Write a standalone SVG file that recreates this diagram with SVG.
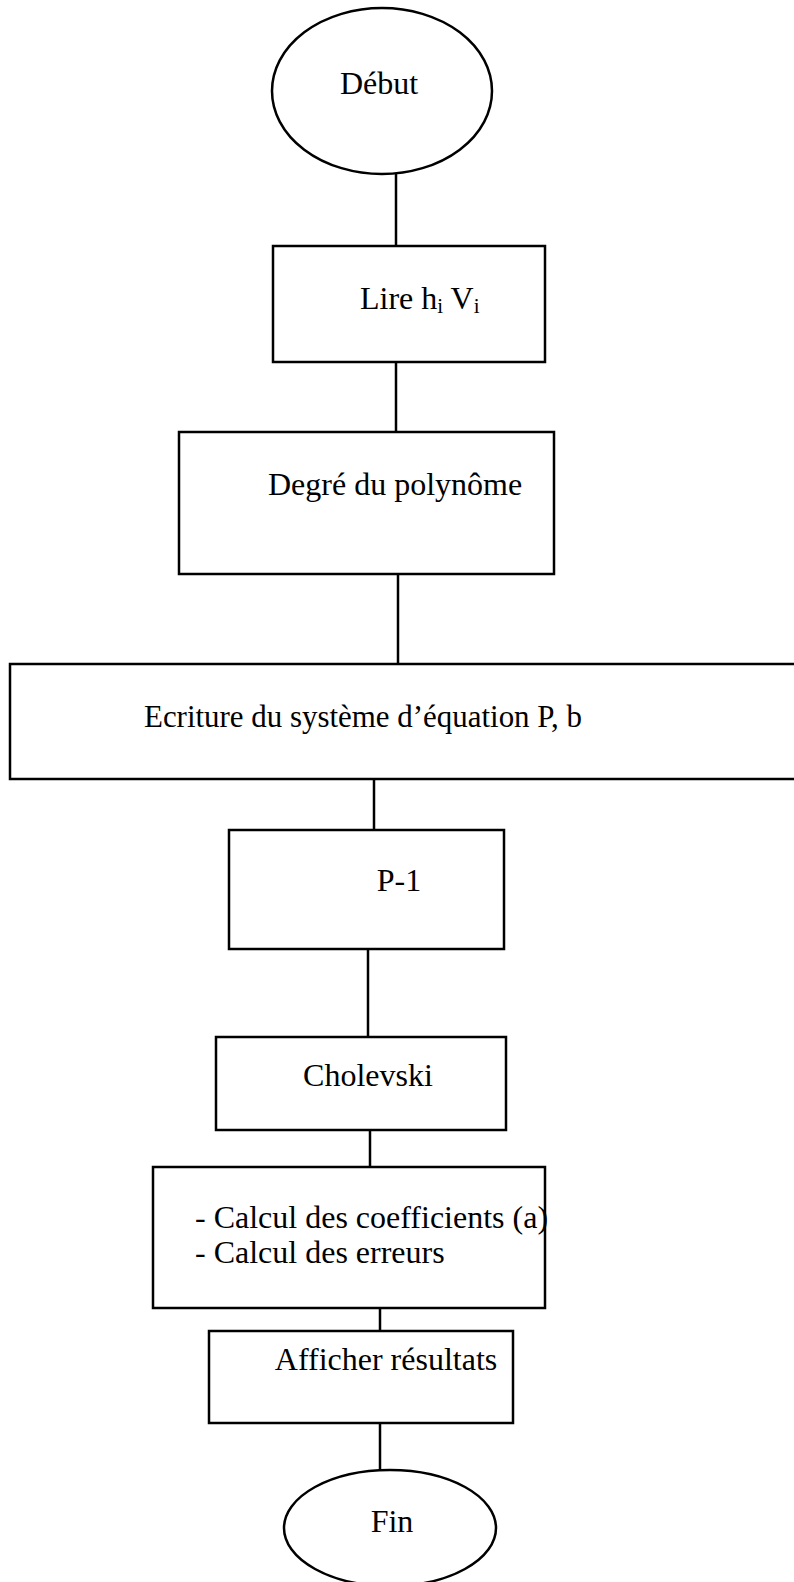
<svg xmlns="http://www.w3.org/2000/svg" width="794" height="1582" viewBox="0 0 794 1582">
<style>
.s{fill:#fff;stroke:#000;stroke-width:2.5}
.c{stroke:#000;stroke-width:2.5;fill:none}
.t{font-family:"Liberation Serif","Times New Roman",serif;font-size:32px;fill:#000}
.m{text-anchor:middle}
</style>
<rect width="794" height="1582" fill="#fff"/>
<g id="connectors">
<line class="c" x1="396" y1="174" x2="396" y2="246"/>
<line class="c" x1="396" y1="362" x2="396" y2="432"/>
<line class="c" x1="398" y1="574" x2="398" y2="664"/>
<line class="c" x1="374" y1="779" x2="374" y2="830"/>
<line class="c" x1="368" y1="949" x2="368" y2="1037"/>
<line class="c" x1="370" y1="1130" x2="370" y2="1167"/>
<line class="c" x1="380" y1="1308" x2="380" y2="1331"/>
<line class="c" x1="380" y1="1423" x2="380" y2="1470"/>
</g>
<g id="debut">
<ellipse class="s" cx="382" cy="91" rx="110" ry="83"/>
<text class="t m" x="379" y="94">Début</text>
</g>
<g id="lire">
<rect class="s" x="273" y="246" width="272" height="116"/>
<text class="t" x="360" y="309">Lire h<tspan font-size="21" dy="4">i</tspan><tspan dy="-4"> V</tspan><tspan font-size="21" dy="4">i</tspan></text>
</g>
<g id="degre">
<rect class="s" x="179" y="432" width="375" height="142"/>
<text class="t" x="268" y="495">Degré du polynôme</text>
</g>
<g id="ecriture">
<rect class="s" x="10" y="664" width="800" height="115"/>
<text class="t" x="144" y="727" textLength="438" lengthAdjust="spacingAndGlyphs">Ecriture du système d’équation P, b</text>
</g>
<g id="p1">
<rect class="s" x="229" y="830" width="275" height="119"/>
<text class="t m" x="399" y="891">P-1</text>
</g>
<g id="cholevski">
<rect class="s" x="216" y="1037" width="290" height="93"/>
<text class="t m" x="368" y="1086">Cholevski</text>
</g>
<g id="calcul">
<rect class="s" x="153" y="1167" width="392" height="141"/>
<text class="t" x="195" y="1228">- Calcul des coefficients (a)</text>
<text class="t" x="195" y="1263">- Calcul des erreurs</text>
</g>
<g id="afficher">
<rect class="s" x="209" y="1331" width="304" height="92"/>
<text class="t m" x="386" y="1370">Afficher résultats</text>
</g>
<g id="fin">
<ellipse class="s" cx="390" cy="1528" rx="106" ry="58"/>
<text class="t m" x="392" y="1532">Fin</text>
</g>
</svg>
